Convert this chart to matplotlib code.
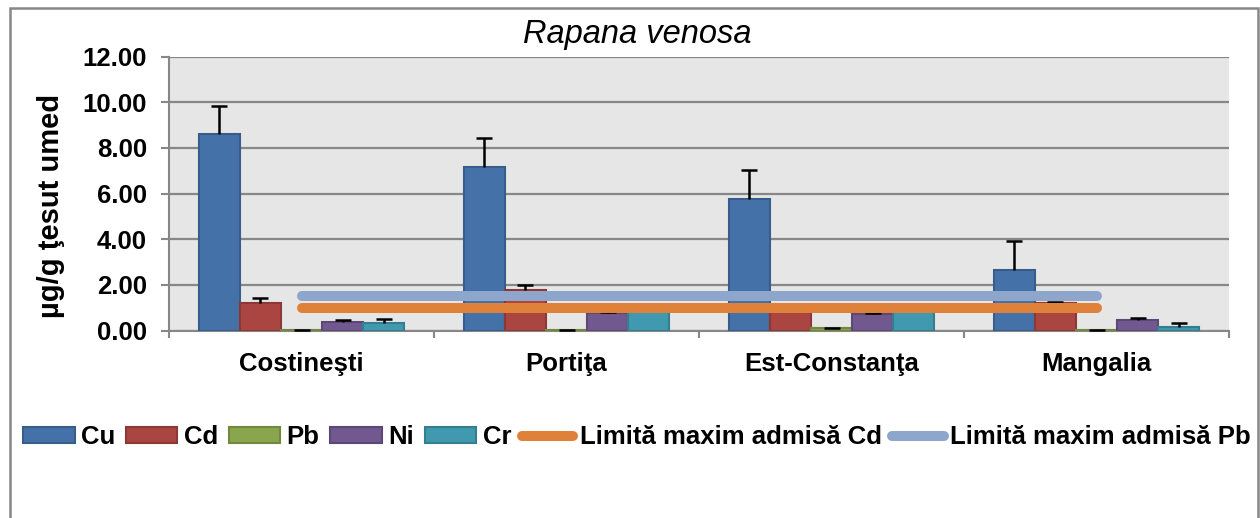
import matplotlib
matplotlib.use("Agg")
import matplotlib.pyplot as plt
import numpy as np
from matplotlib.patches import Patch, Rectangle
from matplotlib.lines import Line2D

plt.rcParams['font.family'] = ['Liberation Sans', 'DejaVu Sans']

categories = ["Costineşti", "Portiţa", "Est-Constanţa", "Mangalia"]
series_names = ["Cu", "Cd", "Pb", "Ni", "Cr"]
cu = [8.60, 7.18, 5.78, 2.67]
cu_err = [1.25, 1.27, 1.27, 1.27]
cd = [1.22, 1.78, 0.80, 1.20]
cd_err = [0.20, 0.20, 0.15, 0.05]
pb = [0.03, 0.03, 0.10, 0.02]
pb_err = [0.01, 0.01, 0.02, 0.01]
ni = [0.40, 0.78, 0.72, 0.45]
ni_err = [0.07, 0.05, 0.05, 0.10]
cr = [0.33, 0.85, 0.80, 0.15]
cr_err = [0.18, 0.10, 0.05, 0.20]
limit_cd = [1.0, 1.0, 1.0, 1.0]
limit_pb = [1.5, 1.5, 1.5, 1.5]
limit_names = ["Limită maxim admisă Cd", "Limită maxim admisă Pb"]
yticks = [0, 2, 4, 6, 8, 10, 12]

values = [cu, cd, pb, ni, cr]
errors = [cu_err, cd_err, pb_err, ni_err, cr_err]
fills = ["#4471A8", "#AA4542", "#89A64E", "#71588F", "#4199B0"]
edges = ["#385D8A", "#8C3836", "#71893F", "#5C4776", "#357D91"]

W, H = 1260, 518
fig = plt.figure(figsize=(W / 100, H / 100), dpi=100)
fig.patch.set_facecolor("white")
ax = fig.add_axes([169 / W, 1 - 330.7 / H, (1229 - 169) / W, (330.7 - 56.5) / H])
ax.set_facecolor("#E6E6E6")

x = np.arange(len(categories))
bw = 0.155
n = len(values)
for i, (v, e) in enumerate(zip(values, errors)):
    off = (i - (n - 1) / 2) * bw
    cont = ax.bar(x + off, v, width=bw, color=fills[i], edgecolor=edges[i], linewidth=1.5, zorder=3,
                  yerr=[np.zeros(len(e)), e],
                  error_kw=dict(ecolor="black", elinewidth=1.8, capsize=5.5, capthick=1.8, zorder=4))
    caps = cont.errorbar.lines[1]
    top = np.asarray(v) + np.asarray(e)
    for cl in caps:
        yd = np.asarray(cl.get_ydata())
        if np.allclose(yd, v):
            cl.set_visible(False)

ax.plot(x, limit_cd, color="#DF8139", linewidth=7.2, solid_capstyle="round", zorder=5)
ax.plot(x, limit_pb, color="#8EA6CC", linewidth=7.2, solid_capstyle="round", zorder=5)

ax.set_xlim(-0.5, len(categories) - 0.5)
ax.set_ylim(0, 12)
ax.set_yticks(yticks)
ax.set_yticklabels([f"{t:.2f}" for t in yticks], fontsize=18.5, fontweight="bold")
ax.yaxis.grid(True, color="#878787", linewidth=1.6, zorder=1)
ax.set_axisbelow(True)

ax.set_xticks(np.arange(-0.5, len(categories), 1.0))
ax.set_xticklabels([])
ax.set_xticks(x, minor=True)
ax.set_xticklabels(categories, minor=True, fontsize=18.5, fontweight="bold")
ax.tick_params(axis="x", which="minor", length=0, pad=15)
ax.tick_params(axis="x", which="major", length=5, width=1.5, color="#878787")
ax.tick_params(axis="y", length=6, width=1.5, color="#878787", pad=10)

for s in ["top", "right"]:
    ax.spines[s].set_visible(False)
for s in ["left", "bottom"]:
    ax.spines[s].set_color("#878787")
    ax.spines[s].set_linewidth(1.5)

ax.set_ylabel("µg/g ţesut umed", fontsize=21, fontweight="bold")
ax.yaxis.set_label_coords(-0.098, 0.455)

fig.text(637 / W, 1 - 34 / H, "Rapana venosa", ha="center", va="center", fontsize=23.5, style="italic")

handles = [Patch(facecolor=fills[i], edgecolor=edges[i], linewidth=1.5) for i in range(n)]
handles += [Line2D([], [], color="#DF8139", linewidth=7.2, solid_capstyle="round"),
            Line2D([], [], color="#8EA6CC", linewidth=7.2, solid_capstyle="round")]
labels = series_names + limit_names
fig.legend(handles, labels, loc="center", bbox_to_anchor=(637 / W, 1 - 437 / H), ncol=7, frameon=False,
           prop=dict(size=18.5, weight="bold"), handlelength=2.0, handleheight=0.55,
           handletextpad=0.25, columnspacing=0.42, borderaxespad=0)

fig.add_artist(Rectangle((10 / W, -0.05), (1258 - 10) / W, 1 - 8 / H + 0.05, transform=fig.transFigure,
                         fill=False, edgecolor="#878787", linewidth=1.8))

fig.savefig("out.png", dpi=100)
